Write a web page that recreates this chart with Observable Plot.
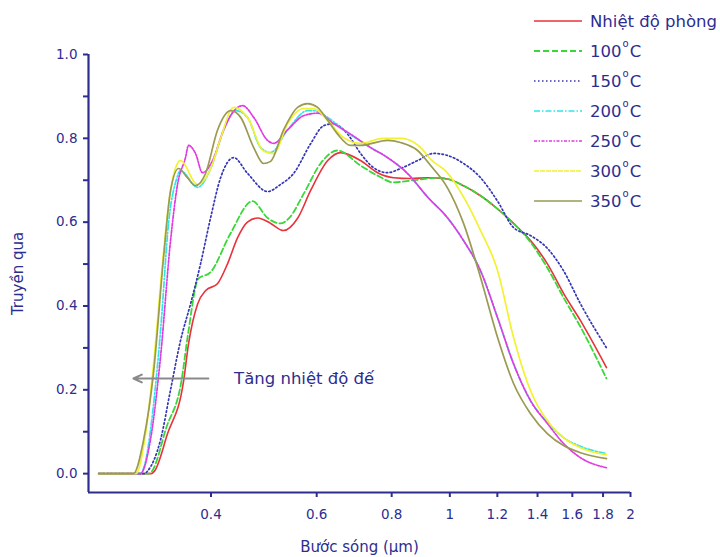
<!DOCTYPE html>
<html>
<head>
<meta charset="utf-8">
<script src="https://cdn.jsdelivr.net/npm/d3@7"></script>
<script src="https://cdn.jsdelivr.net/npm/@observablehq/plot@0.6"></script>
<style>
  html, body { margin: 0; padding: 0; background: #fff; }
  #wrap { position: relative; width: 720px; height: 557px; font-family: "DejaVu Sans", Verdana, sans-serif; overflow: hidden; }
  #legend { position: absolute; left: 533px; top: 6px; color: #2d2d8f; font-size: 16.5px; }
  .row { position: absolute; left: 0; height: 30px; display: flex; align-items: center; white-space: nowrap; }
  .row svg { margin-right: 7px; }
  .deg { font-size: 10px; position: relative; top: -8px; margin: 0 1px; }
</style>
</head>
<body>
<div id="wrap"></div>
<script>
// ---- data ----
const xTicks = [0.4, 0.6, 0.8, 1, 1.2, 1.4, 1.6, 1.8, 2];
const yTicks = [0, 0.2, 0.4, 0.6, 0.8, 1.0];
const yMinorTicks = [0.1, 0.3, 0.5, 0.7, 0.9];

const seriesLabels = ["Nhiệt độ phòng", "100", "150", "200", "250", "300", "350"];

const roomTemp = [[0.26,0],[0.318,0],[0.322,0.006],[0.3385,0.095],[0.360,0.22],[0.367,0.31],[0.380,0.405],[0.392,0.437],[0.410,0.453],[0.426,0.50],[0.443,0.563],[0.460,0.60],[0.4785,0.61],[0.503,0.597],[0.528,0.58],[0.558,0.61],[0.586,0.675],[0.626,0.747],[0.658,0.766],[0.71,0.747],[0.758,0.718],[0.806,0.706],[0.86,0.704],[0.918,0.706],[0.99,0.703],[1.054,0.687],[1.125,0.663],[1.20,0.632],[1.277,0.597],[1.363,0.556],[1.455,0.50],[1.547,0.43],[1.651,0.365],[1.824,0.253]];
const t100 = [[0.26,0],[0.315,0],[0.319,0.006],[0.337,0.11],[0.357,0.22],[0.366,0.33],[0.381,0.465],[0.399,0.48],[0.431,0.573],[0.469,0.65],[0.497,0.61],[0.522,0.597],[0.540,0.61],[0.571,0.668],[0.609,0.74],[0.650,0.771],[0.71,0.735],[0.758,0.711],[0.806,0.695],[0.87,0.70],[0.965,0.706],[1.054,0.687],[1.125,0.663],[1.20,0.632],[1.277,0.597],[1.363,0.552],[1.455,0.49],[1.547,0.42],[1.651,0.35],[1.824,0.227]];
const t150 = [[0.26,0],[0.310,0],[0.3135,0.006],[0.3295,0.08],[0.3425,0.20],[0.3558,0.317],[0.3698,0.405],[0.3842,0.50],[0.3993,0.61],[0.415,0.706],[0.4363,0.754],[0.4604,0.716],[0.497,0.673],[0.5224,0.69],[0.5491,0.716],[0.5861,0.787],[0.6162,0.83],[0.6402,0.835],[0.6755,0.81],[0.71,0.764],[0.7463,0.73],[0.7875,0.718],[0.8278,0.728],[0.8836,0.747],[0.9395,0.764],[0.9915,0.759],[1.054,0.74],[1.125,0.706],[1.201,0.65],[1.277,0.587],[1.363,0.568],[1.455,0.537],[1.547,0.484],[1.651,0.405],[1.824,0.30]];
const t200 = [[0.26,0],[0.305,0],[0.310,0.02],[0.320,0.15],[0.330,0.35],[0.340,0.60],[0.350,0.70],[0.3558,0.723],[0.3798,0.683],[0.400,0.73],[0.420,0.82],[0.4397,0.866],[0.460,0.85],[0.4838,0.778],[0.5027,0.766],[0.5366,0.82],[0.5794,0.866],[0.5929,0.866],[0.6257,0.85],[0.6652,0.82],[0.7378,0.778],[0.7875,0.754],[0.8503,0.716],[0.9181,0.66],[0.9915,0.61],[1.054,0.556],[1.125,0.484],[1.201,0.372],[1.277,0.262],[1.363,0.174],[1.455,0.122],[1.547,0.086],[1.651,0.065],[1.824,0.048]];
const t250 = [[0.26,0],[0.305,0],[0.317,0.08],[0.3295,0.277],[0.3425,0.556],[0.3518,0.69],[0.3627,0.754],[0.3669,0.783],[0.3769,0.764],[0.3872,0.718],[0.4024,0.747],[0.4198,0.82],[0.4397,0.87],[0.4517,0.878],[0.4712,0.85],[0.497,0.795],[0.5085,0.788],[0.5366,0.82],[0.5706,0.854],[0.6021,0.86],[0.6402,0.835],[0.6833,0.81],[0.7378,0.778],[0.7875,0.754],[0.8503,0.716],[0.9181,0.66],[0.9915,0.61],[1.054,0.556],[1.125,0.484],[1.201,0.372],[1.277,0.262],[1.363,0.174],[1.455,0.119],[1.547,0.072],[1.651,0.038],[1.824,0.014]];
const t300 = [[0.26,0],[0.300,0],[0.310,0.08],[0.3208,0.26],[0.333,0.52],[0.342,0.67],[0.3558,0.747],[0.3798,0.69],[0.400,0.73],[0.415,0.80],[0.4363,0.874],[0.460,0.85],[0.4894,0.77],[0.5085,0.764],[0.5366,0.835],[0.5706,0.871],[0.5929,0.871],[0.6257,0.843],[0.6652,0.802],[0.71,0.788],[0.7756,0.80],[0.8278,0.80],[0.8938,0.778],[0.929,0.750],[0.99,0.718],[1.054,0.66],[1.125,0.58],[1.201,0.484],[1.277,0.325],[1.363,0.198],[1.455,0.126],[1.547,0.086],[1.651,0.062],[1.824,0.045]];
const t350 = [[0.26,0],[0.297,0],[0.3088,0.08],[0.3208,0.24],[0.3334,0.515],[0.3425,0.675],[0.3532,0.728],[0.3655,0.706],[0.3769,0.687],[0.3917,0.716],[0.4102,0.82],[0.4313,0.866],[0.4482,0.85],[0.4712,0.778],[0.4894,0.74],[0.5027,0.745],[0.5284,0.82],[0.5576,0.874],[0.5794,0.883],[0.6021,0.874],[0.6257,0.843],[0.6501,0.81],[0.6833,0.783],[0.71,0.783],[0.7875,0.795],[0.8278,0.79],[0.8836,0.771],[0.929,0.735],[0.99,0.683],[1.054,0.597],[1.125,0.468],[1.201,0.325],[1.277,0.215],[1.363,0.143],[1.455,0.095],[1.547,0.067],[1.651,0.05],[1.824,0.036]];

const annotationText = ["Tăng nhiệt độ đế"];
const arrowTail = [0.396];
const arrowHead = [0.297];
const arrowLevel = [0.227];
const annotationX = [0.437];

// ---- styling ----
const navy = "#2d2d8f";
const styles = [
  {color: "#e8323c", dash: null, width: 1.6},
  {color: "#39d839", dash: "6,3", width: 1.8},
  {color: "#3636b4", dash: "1.5,2.5", width: 1.7},
  {color: "#33e3ea", dash: "6,2,1.5,2", width: 1.7},
  {color: "#e23ae2", dash: "3,1.5,1.5,1.5", width: 1.7},
  {color: "#f2f230", dash: "5,1", width: 1.7},
  {color: "#9a9a52", dash: null, width: 1.7}
];
const allSeries = [roomTemp, t100, t150, t200, t250, t300, t350];

const lineMarks = allSeries.map((s, i) => Plot.line(s, {
  x: d => d[0], y: d => d[1],
  stroke: styles[i].color, strokeWidth: styles[i].width,
  strokeDasharray: styles[i].dash, curve: "monotone-x"
}));

const chart = Plot.plot({
  width: 720, height: 557,
  marginLeft: 88, marginRight: 90, marginTop: 54, marginBottom: 65,
  style: {fontFamily: "DejaVu Sans, Verdana, sans-serif", fontSize: "13.5px", color: navy, background: "white"},
  x: {type: "log", domain: [0.25, 2]},
  y: {domain: [-0.045, 1]},
  marks: [
    Plot.axisX({ticks: xTicks, tickFormat: d => String(d), tickSize: 5, tickPadding: 12, strokeWidth: 2,
      label: "Bước sóng (µm)", labelAnchor: "center", labelOffset: 59, labelArrow: "none", fontSize: 13.5}),
    Plot.axisY({ticks: yTicks, tickFormat: d3.format(".1f"), tickSize: 5, tickPadding: 6, strokeWidth: 2,
      label: "Truyền qua", labelAnchor: "center", labelOffset: 76, labelArrow: "none", fontSize: 13.5}),
    Plot.axisY({ticks: yMinorTicks, tickFormat: () => "", tickSize: 5, strokeWidth: 2, label: null}),
    Plot.ruleX([0.25], {stroke: navy, strokeWidth: 2.2}),
    Plot.ruleY([-0.045], {stroke: navy, strokeWidth: 2.2}),
    ...lineMarks,
    Plot.arrow(arrowLevel, {x1: (d, i) => arrowTail[i], x2: (d, i) => arrowHead[i], y1: d => d, y2: d => d,
      stroke: "#8a8a8a", strokeWidth: 2, headLength: 7, headAngle: 50}),
    Plot.text(annotationText, {x: (d, i) => annotationX[i], y: (d, i) => arrowLevel[i], text: d => d,
      textAnchor: "start", fill: navy, fontSize: 16.5})
  ]
});

// enlarge the axis titles
chart.querySelectorAll('[aria-label="x-axis label"], [aria-label="y-axis label"]').forEach(g => {
  g.setAttribute("font-size", "15");
  g.querySelectorAll("text").forEach(t => t.setAttribute("font-size", "15"));
});

const wrap = document.getElementById("wrap");
wrap.appendChild(chart);

// legend
const legend = document.createElement("div");
legend.id = "legend";
seriesLabels.forEach((lab, i) => {
  const row = document.createElement("div");
  row.className = "row";
  row.style.top = (i * 30) + "px";
  const st = styles[i];
  row.innerHTML = `<svg width="50" height="6"><line x1="1" x2="49" y1="3" y2="3" stroke="${st.color}" stroke-width="${st.width}" ${st.dash ? `stroke-dasharray="${st.dash}"` : ""}/></svg>` +
    (i === 0 ? lab : `${lab}<span class="deg">o</span>C`);
  legend.appendChild(row);
});
wrap.appendChild(legend);
</script>
</body>
</html>
